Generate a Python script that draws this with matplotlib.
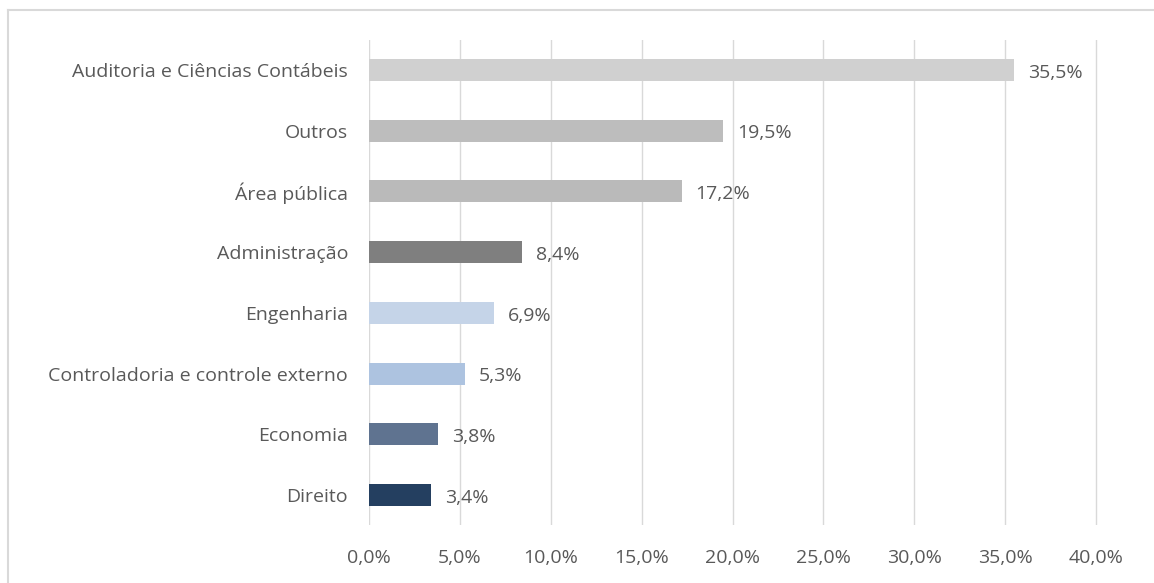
import matplotlib
matplotlib.use("Agg")
import matplotlib.pyplot as plt
from matplotlib.lines import Line2D

categories = ["Auditoria e Ciências Contábeis", "Outros", "Área pública", "Administração",
              "Engenharia", "Controladoria e controle externo", "Economia", "Direito"]
values = [35.5, 19.5, 17.2, 8.4, 6.9, 5.3, 3.8, 3.4]
colors = ["#d0d0d0", "#bdbdbd", "#bababa", "#7f7f7f", "#c5d4e8", "#adc3e0", "#5f7390", "#243f60"]
xticks = [0, 5, 10, 15, 20, 25, 30, 35, 40]

plt.rcParams['font.family'] = ['Open Sans', 'DejaVu Sans']
txt = "#595959"
fs = 14

fig = plt.figure(figsize=(11.54, 5.83), dpi=100)
ax = fig.add_axes([369/1154, 57.6/583, 729/1154, 485.8/583])

n = len(categories)
ypos = list(range(n))[::-1]
ax.barh(ypos, values, height=0.36, color=colors, zorder=3)
ax.set_ylim(-0.5, n - 0.5)
ax.set_xlim(0, 40 * 729 / 727)
ax.set_yticks(ypos)
ax.set_yticklabels(categories, fontsize=fs, color=txt)
ax.set_xticks(xticks)
ax.set_xticklabels([f"{t:.1f}%".replace(".", ",") for t in xticks], fontsize=fs, color=txt)
ax.tick_params(axis='both', length=0)
ax.tick_params(axis='y', pad=15)
ax.tick_params(axis='x', pad=17)
ax.grid(axis='x', color="#d9d9d9", linewidth=1, zorder=0)
for s in ax.spines.values():
    s.set_visible(False)

for y, v in zip(ypos, values):
    ax.annotate(f"{v:.1f}%".replace(".", ","), (v, y), xytext=(10, -2), textcoords="offset points",
                va="center", ha="left", fontsize=fs, color=txt)

# outer frame (left and top)
fig.add_artist(Line2D([8/1154, 8/1154], [0, 1 - 10/583], transform=fig.transFigure, color="#d9d9d9", lw=1.5))
fig.add_artist(Line2D([8/1154, 1], [1 - 10/583, 1 - 10/583], transform=fig.transFigure, color="#d9d9d9", lw=1.5))

fig.savefig("out.png", dpi=100)
